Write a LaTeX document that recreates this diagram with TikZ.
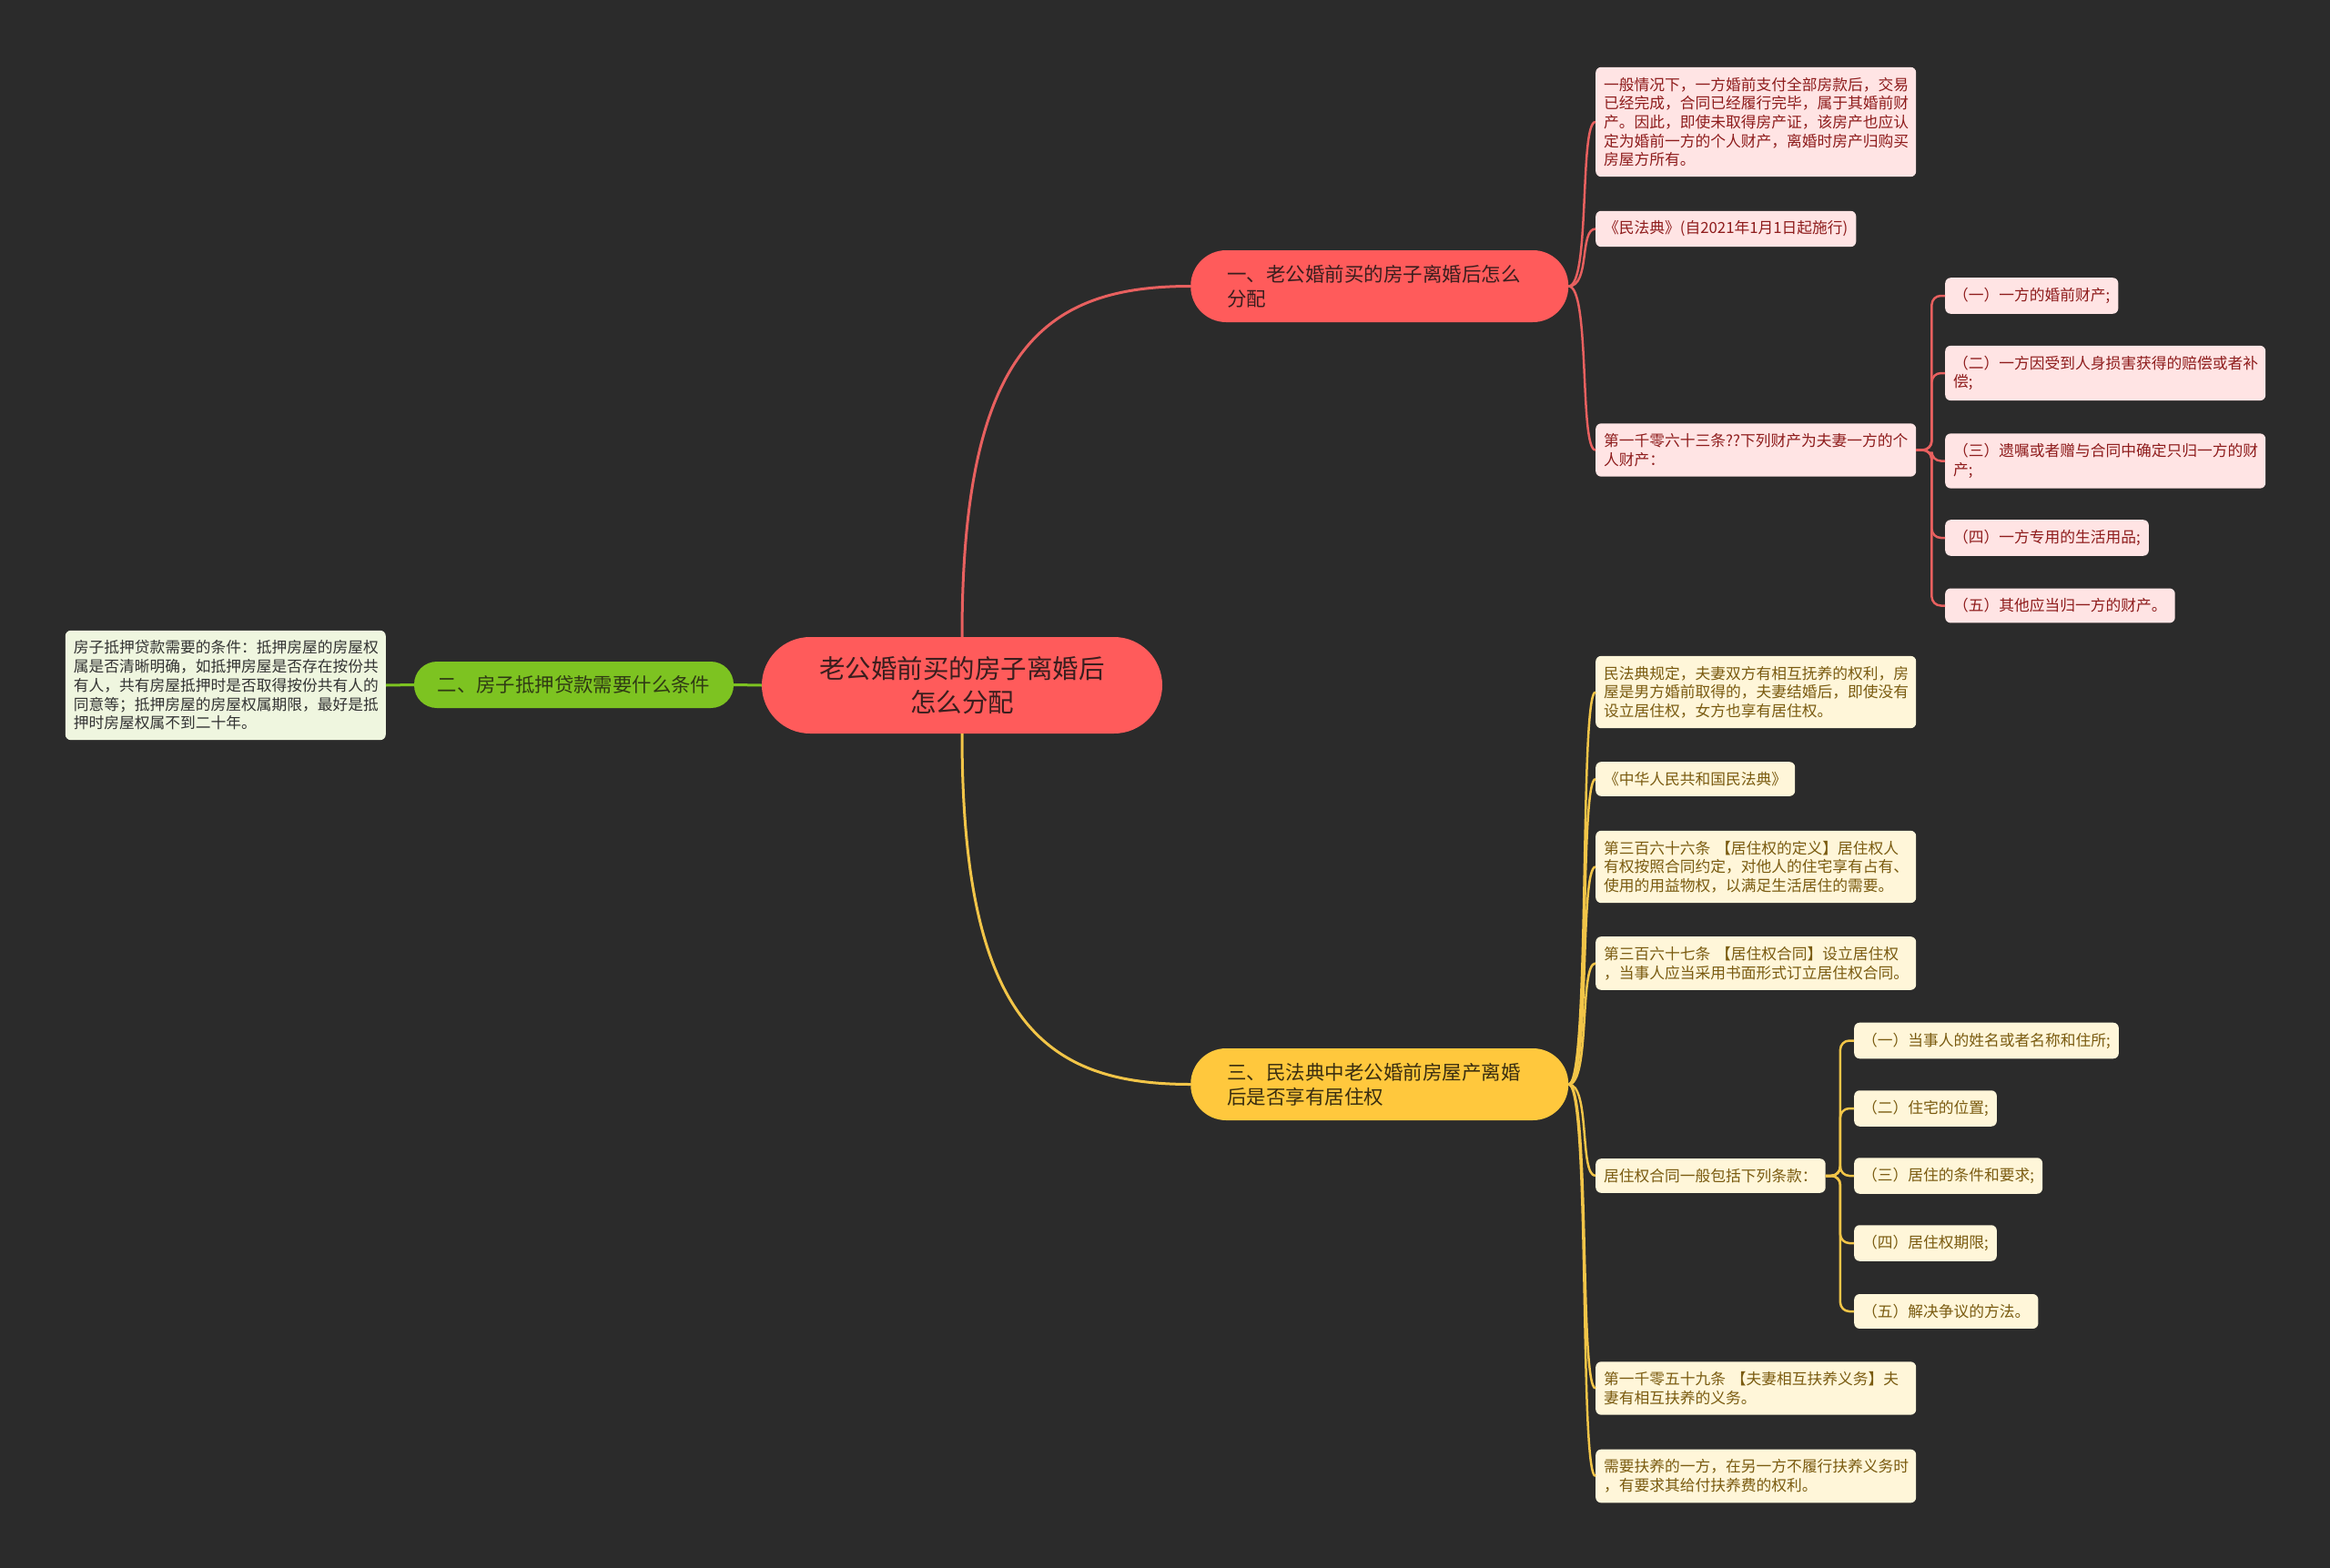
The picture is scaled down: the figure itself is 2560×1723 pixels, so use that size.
\documentclass[tikz,border=0pt]{standalone}
\usepackage{fontspec}
\setmainfont{Noto Sans CJK SC}
\definecolor{bgc}{HTML}{2B2B2B}
\definecolor{redfill}{HTML}{FF5B5B}
\definecolor{redtext}{HTML}{3A1E1E}
\definecolor{rleaf}{HTML}{FFE4E4}
\definecolor{rleaftext}{HTML}{8E1C1C}
\definecolor{rline}{HTML}{E8605F}
\definecolor{yfill}{HTML}{FFC83D}
\definecolor{ytext}{HTML}{3A2E10}
\definecolor{yleaf}{HTML}{FFF6D9}
\definecolor{yleaftext}{HTML}{7A5B10}
\definecolor{yline}{HTML}{F2C548}
\definecolor{gfill}{HTML}{7DC321}
\definecolor{gtext}{HTML}{2F3A14}
\definecolor{gleaf}{HTML}{EFF6DF}
\definecolor{gleaftext}{HTML}{333333}
\begin{document}
\begin{tikzpicture}[x=1pt,y=-1pt,
  leafbase/.style={font=\fontsize{16.75}{20.7}\selectfont, align=left, inner xsep=9pt, inner ysep=11pt, rounded corners=6pt, anchor=west},
  wrap/.style={text width=334pt},
  leafR/.style={leafbase, fill=rleaf, text=rleaftext},
  leafY/.style={leafbase, fill=yleaf, text=yleaftext},
  leafG/.style={leafbase, fill=gleaf, text=gleaftext, anchor=east},
  branchbox/.style={font=\fontsize{21.5}{27.3}\selectfont, align=left, text width=335pt, inner xsep=40pt, inner ysep=0pt, minimum height=79pt, rounded corners=39pt, anchor=west},
  rootbox/.style={font=\fontsize{28.5}{37}\selectfont, align=center, fill=redfill, text=redtext, minimum width=440pt, minimum height=106pt, rounded corners=53pt},
  conR/.style={draw=rline, line width=2.5pt},
  conY/.style={draw=yline, line width=2.5pt},
  conG/.style={draw=gfill, line width=3pt},
]
\fill[bgc] (0,0) rectangle (2560,1723);
\useasboundingbox (0,0) rectangle (2560,1723);

% root and branches
\node[rootbox] (root) at (1057,753) {老公婚前买的房子离婚后\\怎么分配};
\node[branchbox, fill=redfill, text=redtext] (b1) at (1308,314.5) {一、老公婚前买的房子离婚后怎么\\分配};
\node[branchbox, fill=yfill, text=ytext] (b3) at (1308,1191.5) {三、民法典中老公婚前房屋产离婚\\后是否享有居住权};
\node[font=\fontsize{21.4}{27}\selectfont, fill=gfill, text=gtext, minimum width=351pt, minimum height=51pt, rounded corners=25pt, inner sep=0pt] (b2) at (630.5,752.5) {二、房子抵押贷款需要什么条件};

% green leaf
\node[leafG, wrap] (g1) at (424,753) {房子抵押贷款需要的条件：抵押房屋的房屋权\\属是否清晰明确，如抵押房屋是否存在按份共\\有人，共有房屋抵押时是否取得按份共有人的\\同意等；抵押房屋的房屋权属期限，最好是抵\\押时房屋权属不到二十年。};

% red leaves
\node[leafR, wrap] (r1) at (1753,134) {一般情况下，一方婚前支付全部房款后，交易\\已经完成，合同已经履行完毕，属于其婚前财\\产。因此，即使未取得房产证，该房产也应认\\定为婚前一方的个人财产，离婚时房产归购买\\房屋方所有。};
\node[leafR] (r2) at (1753,251.5) {《民法典》(自2021年1月1日起施行)};
\node[leafR, wrap] (r3) at (1753,494.5) {第一千零六十三条??下列财产为夫妻一方的个\\人财产：};
\node[leafR] (s1) at (2137,325) {（一）一方的婚前财产;};
\node[leafR, wrap] (s2) at (2137,410) {（二）一方因受到人身损害获得的赔偿或者补\\偿;};
\node[leafR, wrap] (s3) at (2137,506.5) {（三）遗嘱或者赠与合同中确定只归一方的财\\产;};
\node[leafR] (s4) at (2137,591) {（四）一方专用的生活用品;};
\node[leafR] (s5) at (2137,665.5) {（五）其他应当归一方的财产。};

% yellow leaves
\node[leafY, wrap] (y1) at (1753,760.5) {民法典规定，夫妻双方有相互抚养的权利，房\\屋是男方婚前取得的，夫妻结婚后，即使没有\\设立居住权，女方也享有居住权。};
\node[leafY] (y2) at (1753,856) {《中华人民共和国民法典》};
\node[leafY, wrap] (y3) at (1753,952.5) {第三百六十六条 【居住权的定义】居住权人\\有权按照合同约定，对他人的住宅享有占有、\\使用的用益物权，以满足生活居住的需要。};
\node[leafY, wrap] (y4) at (1753,1058.5) {第三百六十七条 【居住权合同】设立居住权\\，当事人应当采用书面形式订立居住权合同。};
\node[leafY] (y5) at (1753,1292) {居住权合同一般包括下列条款：};
\node[leafY, wrap] (y6) at (1753,1525.5) {第一千零五十九条 【夫妻相互扶养义务】夫\\妻有相互扶养的义务。};
\node[leafY, wrap] (y7) at (1753,1622) {需要扶养的一方，在另一方不履行扶养义务时\\，有要求其给付扶养费的权利。};
\node[leafY] (t1) at (2037,1143.5) {（一）当事人的姓名或者名称和住所;};
\node[leafY] (t2) at (2037,1218) {（二）住宅的位置;};
\node[leafY] (t3) at (2037,1292) {（三）居住的条件和要求;};
\node[leafY] (t4) at (2037,1366) {（四）居住权期限;};
\node[leafY] (t5) at (2037,1441) {（五）解决争议的方法。};

% main connectors
\draw[conR, line width=3pt] (root.north) .. controls (1057,380) and (1150,314.5) .. (b1.west);
\draw[conY, line width=3pt] (root.south) .. controls (1057,1125) and (1150,1191.5) .. (b3.west);
\draw[conG] (root.west) -- (b2.east);
\draw[conG] (b2.west) -- (g1.east);

% red first-level
\foreach \c in {r1,r2,r3}{
  \draw[conR] (b1.east) .. controls ++(24,0) and ([xshift=-18pt]\c.west) .. (\c.west);
}
% red second-level
\foreach \c in {s1,s2,s3,s4,s5}{
  \draw[conR, rounded corners=10pt] (r3.east) -- ++(17,0) |- (\c.west);
}
% yellow first-level
\foreach \c in {y1,y2,y3,y4,y5,y6,y7}{
  \draw[conY] (b3.east) .. controls ++(24,0) and ([xshift=-18pt]\c.west) .. (\c.west);
}
% yellow second-level
\foreach \c in {t1,t2,t3,t4,t5}{
  \draw[conY, rounded corners=10pt] (y5.east) -- ++(16,0) |- (\c.west);
}
\end{tikzpicture}
\end{document}
